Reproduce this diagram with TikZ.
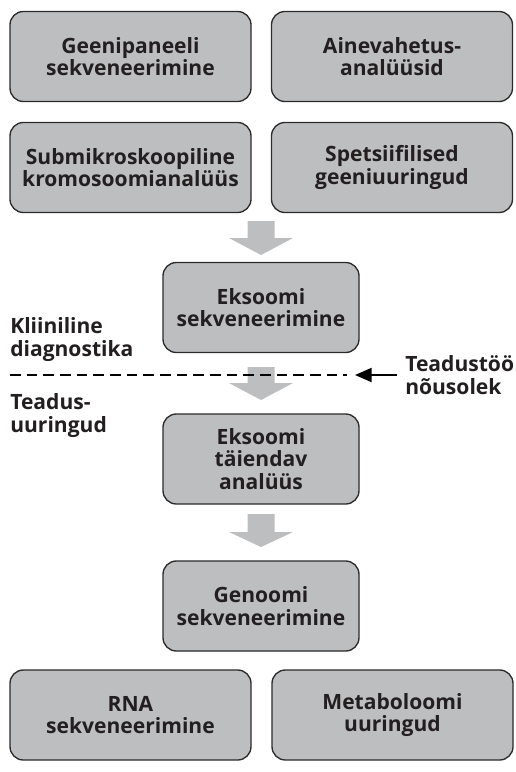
\documentclass[tikz,border=0pt]{standalone}
\usepackage{fontspec}
\setmainfont{Open Sans}
\usetikzlibrary{arrows.meta}
\definecolor{boxgrey}{HTML}{BDBEC0}
\definecolor{boxline}{HTML}{2B2B2B}
\definecolor{txt}{HTML}{231F20}
\begin{document}
\begin{tikzpicture}[x=0.75pt,y=-0.75pt,
  font=\fontsize{15.8}{16.8}\selectfont\bfseries,
  box/.style={draw=boxline, fill=boxgrey, line width=1pt, rounded corners=10pt,
    align=center, text=txt, inner sep=0pt, minimum height=67.5pt},
  widebox/.style={box, minimum width=180.75pt},
  midbox/.style={box, minimum width=147pt},
  blockarrow/.style={fill=boxgrey, draw=none},
  sidelabel/.style={align=left, text=txt, inner sep=0pt, anchor=west},
  dashline/.style={draw=black, line width=1.5pt, dash pattern=on 8pt off 4.5pt},
  consentarrow/.style={draw=black, line width=1.5pt, -{Triangle[length=12.5pt, width=10.5pt]}}
]
\useasboundingbox (0,0) rectangle (515,772);
\fill[white] (0,0) rectangle (515,772);

% block arrows
\coordinate (ar1) at (261,221);
\coordinate (ar2) at (261,367);
\coordinate (ar3) at (261,514);
\fill[blockarrow] (ar1) ++(-13.5,0) -- ++(0,17) -- ++(-18.5,0) -- ++(32,17) -- ++(32,-17) -- ++(-18.5,0) -- ++(0,-17) -- cycle;
\fill[blockarrow] (ar2) ++(-13.5,0) -- ++(0,16) -- ++(-18.5,0) -- ++(32,17) -- ++(32,-17) -- ++(-18.5,0) -- ++(0,-16) -- cycle;
\fill[blockarrow] (ar3) ++(-13.5,0) -- ++(0,18) -- ++(-18.5,0) -- ++(32,15) -- ++(32,-15) -- ++(-18.5,0) -- ++(0,-18) -- cycle;

% boxes
\node[widebox] (g1) at (130.5,56.5) {Geenipaneeli\\sekveneerimine};
\node[widebox] (a1) at (392,56.5) {Ainevahetus-\\analüüsid};
\node[widebox] (s1) at (130.5,167.5) {Submikroskoopiline\\kromosoomianalüüs};
\node[widebox] (s2) at (392,167.5) {Spetsiifilised\\geeniuuringud};
\node[midbox] (e1) at (261,307.5) {Eksoomi\\sekveneerimine};
\node[midbox] (e2) at (261,459) {Eksoomi\\täiendav\\analüüs};
\node[midbox] (gen) at (261,606) {Genoomi\\sekveneerimine};
\node[widebox] (rna) at (130.5,715) {RNA\\sekveneerimine};
\node[widebox] (met) at (392.5,715) {Metaboloomi\\uuringud};

% dashed divider
\coordinate (dl) at (10,375);
\coordinate (dr) at (347,375);
\draw[dashline] (dl) -- (dr);

% consent arrow
\coordinate (cs) at (397,375);
\coordinate (ce) at (355,375);
\draw[consentarrow] (cs) -- (ce);

% side labels
\node[sidelabel] (klin) at (10,339.5) {Kliiniline\\diagnostika};
\node[sidelabel] (tead) at (10,415.5) {Teadus-\\uuringud};
\node[sidelabel] (cons) at (405,375) {Teadustöö\\nõusolek};
\end{tikzpicture}
\end{document}
